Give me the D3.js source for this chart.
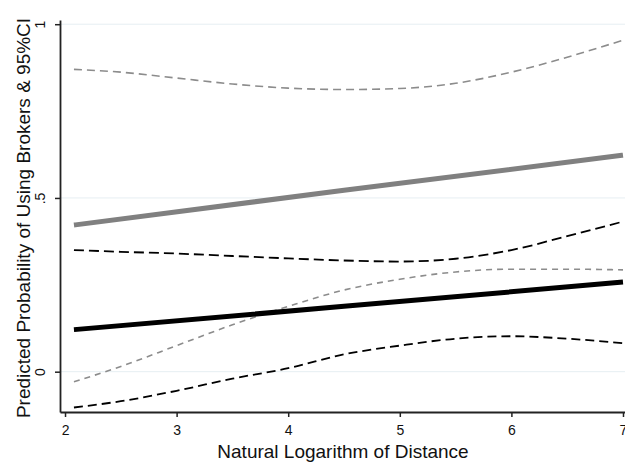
<!DOCTYPE html>
<html><head><meta charset="utf-8">
<script src="https://cdn.jsdelivr.net/npm/d3@7"></script>
<style>body{margin:0;background:#fff;}svg{display:block;}</style>
</head><body><div id="chart"></div>
<script>
const xValues = [2.08, 2.5, 3, 3.5, 4, 4.5, 5, 5.5, 6, 6.5, 7];
const grayUpper = [0.870, 0.862, 0.845, 0.828, 0.816, 0.812, 0.815, 0.830, 0.862, 0.905, 0.954];
const grayLower = [-0.029, 0.015, 0.075, 0.135, 0.188, 0.235, 0.266, 0.287, 0.295, 0.295, 0.293];
const blackUpper = [0.350, 0.345, 0.340, 0.333, 0.326, 0.320, 0.317, 0.325, 0.350, 0.390, 0.432];
const blackLower = [-0.103, -0.085, -0.055, -0.020, 0.010, 0.050, 0.075, 0.095, 0.102, 0.095, 0.082];
const grayFitX = [2.08, 4.5, 7];
const grayFit = [0.422, 0.522, 0.623];
const blackFitX = [2.08, 4.5, 7];
const blackFit = [0.121, 0.188, 0.258];
const xTicks = [2, 3, 4, 5, 6, 7];
const yTicks = [0, 0.5, 1];
const yTickLabels = ["0", ".5", "1"];
const xTitle = "Natural Logarithm of Distance";
const yTitle = "Predicted Probability of Using Brokers & 95%CI";

const W = 625, H = 467;
const svg = d3.select("#chart").append("svg").attr("width", W).attr("height", H);
const x = d3.scaleLinear().domain([1.955, 7.018]).range([60, 625]);
const y = d3.scaleLinear().domain([-0.116, 1.0121]).range([412, 20]);
const font = "'Liberation Sans', Arial, sans-serif";

// gridlines
svg.append("g").selectAll("line").data(yTicks).join("line")
  .attr("x1", x.range()[0]).attr("x2", x.range()[1])
  .attr("y1", d => y(d)).attr("y2", d => y(d))
  .attr("stroke", "#e6eef2").attr("stroke-width", 1);

const line = (xs) => d3.line().x((d, i) => x(xs[i])).y(d => y(d)).curve(d3.curveMonotoneX);
const series = [
  {vals: grayUpper, xs: xValues, color: "#8c8c8c", w: 1.6, dash: "8,5"},
  {vals: grayLower, xs: xValues, color: "#8c8c8c", w: 1.6, dash: "6,5"},
  {vals: blackUpper, xs: xValues, color: "#000", w: 1.8, dash: "10,5"},
  {vals: blackLower, xs: xValues, color: "#000", w: 1.8, dash: "9,5"},
  {vals: grayFit, xs: grayFitX, color: "#808080", w: 5, dash: null},
  {vals: blackFit, xs: blackFitX, color: "#000", w: 5, dash: null}
];
series.forEach(s => {
  svg.append("path").attr("d", line(s.xs)(s.vals))
    .attr("fill", "none").attr("stroke", s.color).attr("stroke-width", s.w)
    .attr("stroke-dasharray", s.dash);
});

// axes
const xAxis = svg.append("g").attr("transform", "translate(0,412)")
  .call(d3.axisBottom(x).tickValues(xTicks).tickFormat(d3.format("d")).tickSize(5).tickSizeOuter(0).tickPadding(8));
const yAxis = svg.append("g").attr("transform", "translate(60,0)")
  .call(d3.axisLeft(y).tickValues(yTicks).tickFormat((d, i) => yTickLabels[i]).tickSize(5).tickSizeOuter(0));
[xAxis, yAxis].forEach(a => {
  a.select(".domain").attr("stroke", "#222").attr("stroke-width", 1.8);
  a.selectAll(".tick line").attr("stroke", "#222").attr("stroke-width", 1.5);
});
xAxis.selectAll("text").attr("font-family", font).attr("font-size", 14).attr("fill", "#111").attr("dy", "0.71em");
yAxis.selectAll("text").attr("font-family", font).attr("font-size", 14).attr("fill", "#111")
  .attr("x", null).attr("dy", null)
  .attr("text-anchor", "middle")
  .attr("transform", "translate(-15,0) rotate(-90)");

svg.append("text").attr("x", 343).attr("y", 458).attr("text-anchor", "middle")
  .attr("font-family", font).attr("font-size", 19).attr("fill", "#111").text(xTitle);
svg.append("text").attr("transform", "translate(30,218) rotate(-90)").attr("text-anchor", "middle")
  .attr("font-family", font).attr("font-size", 19).attr("fill", "#111").text(yTitle);
</script></body></html>
